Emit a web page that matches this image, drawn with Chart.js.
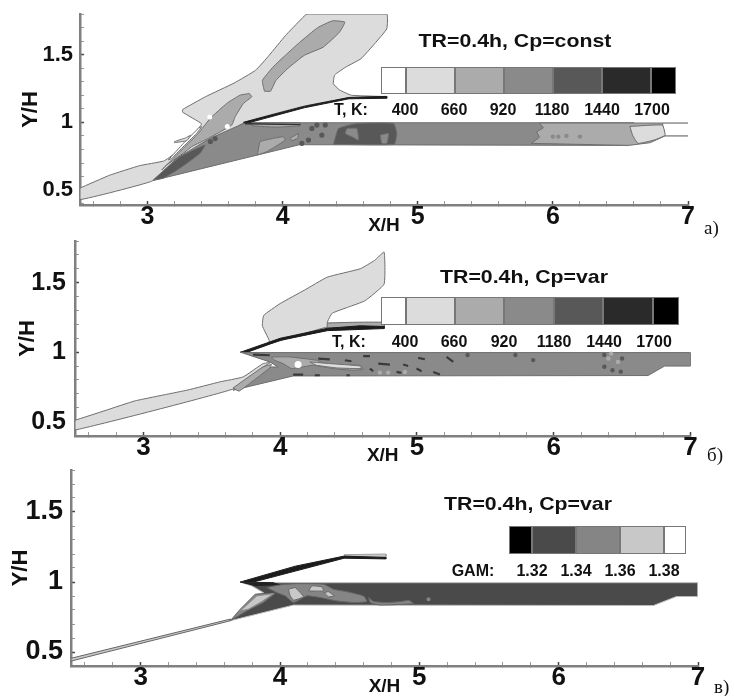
<!DOCTYPE html>
<html>
<head>
<meta charset="utf-8">
<script src="https://cdn.jsdelivr.net/npm/chart.js@4"></script>
<style>
  html, body { margin: 0; padding: 0; background: #fff; }
  #page { position: relative; width: 734px; height: 696px; overflow: hidden; filter: blur(0.6px); }
  canvas { position: absolute; left: 0; }
  .t { position: absolute; white-space: nowrap; font: bold 16px "Liberation Sans", sans-serif; color: #111; transform: translate(-50%, -50%); }
  .s { position: absolute; box-sizing: border-box; }
  .m { position: absolute; font: 19px "Liberation Serif", serif; color: #111; white-space: nowrap; }
</style>
</head>
<body>
<div id="page">
  <canvas id="c1" width="734" height="235" style="top:0"></canvas>
  <canvas id="c2" width="734" height="230" style="top:235px"></canvas>
  <canvas id="c3" width="734" height="231" style="top:465px"></canvas>
</div>
<script>
const xTickValues = [2.6,2.8,3,3.2,3.4,3.6,3.8,4,4.2,4.4,4.6,4.8,5,5.2,5.4,5.6,5.8,6,6.2,6.4,6.6,6.8,7];
const yTickValues = [0.4,0.5,0.6,0.7,0.8,0.9,1,1.1,1.2,1.3,1.4,1.5,1.6,1.7,1.8];
const xLabels = [3,4,5,6,7];
const yLabels = { 0.5: "0.5", 1: "1", 1.5: "1.5" };

const tempColors = ["#ffffff","#dcdcdc","#ababab","#8a8a8a","#585858","#2a2a2a","#000000"];
const tempLabels = ["400","660","920","1180","1440","1700"];
const gamColors = ["#000000","#4a4a4a","#858585","#c8c8c8","#ffffff"];
const gamLabels = ["1.32","1.34","1.36","1.38"];

// panel a
const a_plume = [[2.5,.515],[2.72,.61],[2.94,.68],[3.12,.715],[3.2,.77],[3.3,.87],[3.38,.96],[3.4,.99],[3.26,1.075],[3.26,1.095],[3.43,1.19],[3.64,1.29],[3.8,1.385],[3.9,1.495],[4.02,1.64],[4.14,1.765],[4.18,1.8],[4.77,1.8],[4.77,1.69],[4.68,1.58],[4.58,1.47],[4.47,1.41],[4.385,1.35],[4.375,1.285],[4.42,1.24],[4.51,1.2],[4.77,1.19],[4.49,1.18],[4.16,1.12],[3.73,1.005],[3.6,.93],[3.43,.845],[3.22,.7],[3.03,.565],[2.5,.43]];
const a_blobUp = [[3.865,1.23],[3.85,1.31],[3.93,1.41],[4.02,1.495],[4.125,1.59],[4.26,1.7],[4.37,1.75],[4.46,1.74],[4.42,1.665],[4.3,1.555],[4.16,1.495],[4.04,1.4],[3.95,1.31],[3.91,1.23]];
const a_blobLow = [[3.754,1.213],[3.771,1.189],[3.71,1.14],[3.648,1.041],[3.623,.98],[3.45,.882],[3.327,.821],[3.265,.772],[3.142,.686],[3.105,.649],[3.265,.809],[3.376,.919],[3.463,1.029],[3.586,1.14],[3.685,1.201]];
const a_gap = [[3.154,.723],[3.265,.845],[3.376,.956],[3.401,.968],[3.364,.919],[3.253,.809],[3.179,.735]];
const a_bit = [[3.2,.85],[3.29,.865],[3.32,.905],[3.28,.885],[3.2,.858]];
const a_duct = [[3.043,.571],[3.216,.735],[3.463,.882],[3.722,.997],[6.6,.997],[6.56,.83],[4.125,.835]];
const a_right = [[5.9,.995],[5.93,.96],[5.88,.93],[5.9,.89],[5.84,.845],[6.56,.83],[6.72,.85],[6.83,.9],[6.81,.995]];
const a_rightLight = [[6.57,.97],[6.81,.98],[6.83,.905],[6.75,.87],[6.63,.845],[6.59,.905]];
const a_hot = [[4.376,.838],[4.413,.955],[4.549,.992],[4.821,.992],[4.845,.918],[4.826,.838]];
const a_hole1 = [[4.475,.955],[4.549,.955],[4.562,.869],[4.512,.894],[4.463,.918]];
const a_hole2 = [[4.722,.906],[4.784,.918],[4.771,.845],[4.734,.845]];
const a_patch = [[3.813,.759],[3.833,.857],[3.932,.882],[4.006,.894],[4.018,.869],[3.944,.82],[3.883,.784]];
const a_patch2 = [[4.055,.882],[4.117,.918],[4.11,.882],[4.068,.865]];
const a_wedge = [[3.043,.576],[3.24,.747],[3.426,.833],[3.389,.772],[3.24,.661],[3.117,.588]];
const a_top = [[3.75,.997],[4.13,.997],[4.13,.975],[3.95,.965],[3.78,.975]];
const a_cowl = [[3.71,1],[4.16,1.118],[4.49,1.184],[4.77,1.192],[4.77,1.178],[4.49,1.174],[4.16,1.108],[3.76,1]];
const a_pipeTop = [[6.81,.995],[7,.995]];
const a_pipeLow = [[6.83,.9],[7,.9]];
const a_tipLine = [[3.72,.99],[4.13,.985]];
const a_dark = [[4.253,.98],[4.315,.98],[4.29,.906],[4.191,.869],[4.142,.845],[4.216,.955],[3.465,.858],[3.5,.88]];
const a_mid = [[6,.895],[6.1,.9],[6.04,.895],[6.2,.895]];
const a_white = [[3.59,.97],[3.46,1.04]];

// panel b
const b_band = [[2.5,.51],[2.72,.58],[2.94,.65],[3.32,.727],[3.558,.786],[3.729,.822],[3.875,.918],[3.93,.925],[3.875,.894],[3.656,.735],[2.5,.44]];
const b_plume = [[3.92,1.086],[3.87,1.19],[3.88,1.265],[4,1.35],[4.175,1.445],[4.345,1.54],[4.585,1.6],[4.69,1.66],[4.76,1.72],[4.76,1.49],[4.62,1.37],[4.5,1.325],[4.38,1.28],[4.345,1.21],[4.53,1.21],[4.76,1.21],[4.76,1.18],[4.345,1.18],[3.92,1.06]];
const b_cowlTop = [[4.345,1.21],[4.53,1.215],[4.76,1.215],[4.76,1.185],[4.345,1.175]];
const b_cowl = [[3.71,1],[4,1.1],[4.345,1.172],[4.585,1.19],[4.76,1.185],[4.76,1.17],[4.345,1.155],[4,1.085],[3.76,1]];
const b_duct = [[3.709,1],[3.76,.997],[7,.997],[7,.9],[6.81,.9],[6.69,.832],[4.095,.829],[3.656,.726],[3.936,.894],[3.985,.894],[3.924,.93]];
const b_wedge = [[3.656,.743],[3.875,.894],[3.936,.911],[3.924,.887],[3.7,.72]];
const b_blob = [[3.936,.966],[4.07,.966],[4.265,.942],[4.363,.906],[4.582,.906],[4.607,.877],[4.534,.87],[4.387,.882],[4.241,.906],[4.168,.894],[4.082,.882],[4.021,.918],[3.96,.942]];
const b_blobLight = [[4.217,.93],[4.363,.918],[4.582,.901],[4.595,.882],[4.412,.887],[4.265,.906]];
const b_dashes = [[[4.278,.954],[4.363,.949]],[[4.473,.942],[4.521,.935]],[[4.607,.971],[4.656,.971]],[[4.717,.918],[4.802,.911]],[[4.899,.911],[4.936,.901]],[[5.009,.959],[5.058,.949]],[[4.095,.839],[4.168,.839]],[[4.253,.834],[4.29,.834]],[[4.485,.834],[4.509,.834]],[[4.656,.882],[4.68,.863]],[[4.851,.858],[4.887,.851]],[[4.997,.882],[5.034,.863]],[[5.119,.858],[5.168,.839]],[[5.217,.966],[5.265,.93]],[[3.802,.983],[3.924,.978]]];
const b_dark = [[5.37,.98],[5.72,.98],[5.85,.943],[6.37,.895],[6.43,.87],[6.49,.86],[6.37,.98],[6.5,.955]];
const b_mid = [[4.729,.853],[4.79,.853],[4.912,.858],[6.4,.955],[6.42,.99],[6.47,.93]];
const b_white = [[4.131,.911]];

// panel c
const c_band = [[2.5,.455],[3.643,.735],[3.643,.723],[2.5,.435]];
const c_cowlTop = [[4.46,1.195],[4.76,1.2],[4.76,1.18],[4.47,1.18]];
const c_cowl = [[3.715,1],[4.11,1.113],[4.46,1.185],[4.76,1.175],[4.76,1.165],[4.46,1.17],[4.11,1.078],[3.81,1]];
const c_duct = [[3.715,1],[3.76,.995],[7,.995],[7,.896],[6.845,.896],[6.68,.832],[4.097,.835],[3.643,.723],[3.715,.794],[3.834,.913],[3.882,.924],[3.798,.972]];
const c_tipDark = [[3.715,1],[3.95,.995],[4,.98],[3.82,.975]];
const c_wedge = [[3.643,.723],[3.715,.806],[3.822,.913],[3.966,.92],[3.882,.854],[3.762,.794]];
const c_tri = [[3.715,.794],[3.834,.901],[3.954,.917],[3.87,.861],[3.774,.806]];
const c_blob = [[3.906,.96],[4,.979],[4.121,.988],[4.313,.984],[4.384,.948],[4.48,.931],[4.6,.9],[4.624,.861],[4.54,.853],[4.408,.865],[4.289,.889],[4.193,.901],[4.097,.853],[4.037,.901],[3.978,.924]];
const c_tail = [[4.636,.889],[4.671,.861],[4.767,.853],[4.875,.861],[4.923,.87],[4.958,.846],[4.719,.835],[4.648,.853]];
const c_l1 = [[4.061,.948],[4.109,.96],[4.169,.894],[4.097,.87],[4.073,.901]];
const c_l2 = [[4.205,.936],[4.229,.972],[4.301,.965],[4.313,.936]];
const c_l3 = [[4.317,.924],[4.348,.931],[4.389,.901],[4.348,.894]];
const c_mid = [[5.066,.877]];

function poly(pts, color, border, tension) {
  const closed = pts.concat([pts[0]]);
  return { data: closed.map(p => ({ x: p[0], y: p[1] })), showLine: true, fill: "shape", backgroundColor: color,
    borderColor: border || "#6e6e6e", borderWidth: 1, pointRadius: 0, tension: tension === undefined ? 0.12 : tension };
}
function open(pts, color, width) {
  return { data: pts.map(p => ({ x: p[0], y: p[1] })), showLine: true, fill: false, borderColor: color, borderWidth: width || 1.2, pointRadius: 0 };
}
function dashes(pairs, color, width) {
  const pts = [];
  pairs.forEach(p => { pts.push(p[0], p[1], [p[1][0], null]); });
  return open(pts, color, width);
}
function dots(pts, color, r) {
  return { data: pts.map(p => ({ x: p[0], y: p[1] })), showLine: false, pointRadius: r, pointBackgroundColor: color, pointBorderWidth: 0 };
}

function makePanel(id, sets, o) {
  sets.forEach((d, i) => { d.order = sets.length - i; });
  const tickFont = size => ({ family: "Liberation Sans", weight: "bold", size: size });
  const isMajorX = v => xLabels.includes(Math.round(v * 10) / 10);
  const isMajorY = v => yLabels[Math.round(v * 10) / 10] !== undefined;
  new Chart(document.getElementById(id), {
    type: "scatter",
    data: { datasets: sets },
    options: {
      responsive: false,
      animation: false,
      layout: { padding: { top: o.top, right: 734 - o.right, left: 0, bottom: 0 } },
      plugins: { legend: { display: false }, tooltip: { enabled: false } },
      scales: {
        x: {
          type: "linear", min: 2.5, max: 7,
          afterBuildTicks: s => { s.ticks = xTickValues.map(v => ({ value: v })); },
          afterFit: s => { s.height = o.xHeight; s.paddingLeft = 0; s.paddingRight = 0; },
          border: { color: "#808080", width: 2.5 },
          grid: { drawOnChartArea: false, tickLength: -4,
            tickColor: c => isMajorX(c.tick.value) ? "#444" : "#999",
            tickWidth: c => isMajorX(c.tick.value) ? 1.5 : 1 },
          ticks: { autoSkip: false, maxRotation: 0, padding: o.xPad, color: "#111", font: tickFont(o.xFont),
            callback: v => isMajorX(v) ? String(Math.round(v)) : "" },
          title: { display: true, text: "X/H", color: "#111", padding: 0, font: { family: "Liberation Sans", weight: "bold", size: 19, lineHeight: 1 } }
        },
        y: {
          type: "linear", min: o.yMin, max: 1.8,
          afterBuildTicks: s => { s.ticks = yTickValues.filter(v => v >= o.yMin).map(v => ({ value: v })); },
          afterFit: s => { s.width = o.left; s.paddingTop = 0; s.paddingBottom = 0; },
          border: { color: "#808080", width: 2.5 },
          grid: { drawOnChartArea: false, tickLength: -4,
            tickColor: c => isMajorY(c.tick.value) ? "#444" : "#999",
            tickWidth: c => isMajorY(c.tick.value) ? 1.5 : 1 },
          ticks: { autoSkip: false, padding: o.yPad, color: "#111", font: tickFont(o.yFont),
            callback: v => yLabels[Math.round(v * 10) / 10] || "" },
          title: { display: true, text: "Y/H", color: "#111", padding: { top: o.yTitle, bottom: 0 }, font: { family: "Liberation Sans", weight: "bold", size: 22, lineHeight: 1 } }
        }
      }
    }
  });
}

const C1 = tempColors[1], C2 = tempColors[2], C3 = tempColors[3], C4 = tempColors[4];
makePanel("c1", [
  poly(a_plume, C1), poly(a_blobUp, C2), poly(a_duct, C3, null, 0), poly(a_blobLow, C2), poly(a_gap, "#ffffff"), poly(a_bit, C1),
  poly(a_right, C2, null, 0), poly(a_rightLight, C1), poly(a_hot, C4), poly(a_hole1, C3), poly(a_hole2, C3),
  poly(a_patch, C2), poly(a_patch2, C2), poly(a_wedge, C4), poly(a_top, C2),
  poly(a_cowl, "#1c1c1c", "#1c1c1c", 0), open(a_pipeTop, "#707070"), open(a_pipeLow, "#707070"), open(a_tipLine, "#333333", 1.5),
  dots(a_dark, C4, 2.6), dots(a_mid, C3, 2.2), dots(a_white, "#ffffff", 2.5)
], { top: 14, right: 688, left: 80, xHeight: 30, yMin: 0.39, xFont: 25, yFont: 22, xPad: 1, yPad: 11, yTitle: 20 });

makePanel("c2", [
  poly(b_band, C1), poly(b_plume, C1), poly(b_cowlTop, C2), poly(b_cowl, "#1c1c1c", "#1c1c1c", 0),
  poly(b_duct, C3, null, 0), poly(b_wedge, C2), poly(b_blob, C2), poly(b_blobLight, C1),
  dashes(b_dashes, "#3a3a3a", 2.2), dots(b_dark, C4, 2.2), dots(b_mid, C2, 2.2), dots(b_white, "#ffffff", 3.5)
], { top: 6, right: 690.5, left: 75, xHeight: 29, yMin: 0.397, xFont: 26, yFont: 25, xPad: 0, yPad: 13, yTitle: 17 });

makePanel("c3", [
  poly(c_band, "#c8c8c8", "#666666", 0), poly(c_cowlTop, "#c8c8c8", "#a0a0a0", 0), poly(c_cowl, "#1c1c1c", "#1c1c1c", 0),
  poly(c_duct, gamColors[1], "#bbbbbb", 0), poly(c_tipDark, "#222222", "#222222", 0), poly(c_wedge, gamColors[2], "#666666", 0), poly(c_tri, gamColors[3], "#8a8a8a", 0),
  poly(c_blob, gamColors[2], "#666666"), poly(c_tail, gamColors[2], "#666666"), poly(c_l1, gamColors[3], "#666666"), poly(c_l2, gamColors[3], "#666666"), poly(c_l3, gamColors[3], "#666666"),
  dots(c_mid, gamColors[2], 2)
], { top: 5, right: 698, left: 71, xHeight: 30, yMin: 0.4, xFont: 26, yFont: 27, xPad: 0, yPad: 12, yTitle: 10 });

// colour bars and their captions, outside the axes like in the original figure
const page = document.getElementById("page");
function text(str, x, y, extra) {
  const el = document.createElement("div");
  el.className = "t";
  el.textContent = str;
  el.style.left = x + "px";
  el.style.top = y + "px";
  if (extra) el.style.cssText += extra;
  page.appendChild(el);
}
function bar(edges, colors, top, bottom) {
  colors.forEach((c, i) => {
    const el = document.createElement("div");
    el.className = "s";
    el.style.cssText = `left:${edges[i]}px;top:${top}px;width:${edges[i + 1] - edges[i]}px;height:${bottom - top}px;background:${c};border:1px solid #777;`;
    page.appendChild(el);
  });
}
function caption(str, x, y) {
  text(str, x, y, "font-size:19px;transform:translate(-50%,-50%) scaleX(1.12);");
}
function note(str, x, y) {
  const el = document.createElement("div");
  el.className = "m";
  el.textContent = str;
  el.style.left = x + "px";
  el.style.top = y + "px";
  page.appendChild(el);
}

caption("TR=0.4h, Cp=const", 515, 41);
bar([381,406,455,504,553,602,651,676], tempColors, 67, 94);
text("T, K:", 351, 110);
tempLabels.forEach((s, i) => text(s, [405,454,503,552,602,652][i], 110));
note("а)", 704, 217);

caption("TR=0.4h, Cp=var", 524, 277);
bar([381,406,455,504,554,603,653,679], tempColors, 297, 325);
text("T, K:", 349, 342);
tempLabels.forEach((s, i) => text(s, [405,454,504,554,604,654][i], 342));
note("б)", 707, 444);

caption("TR=0.4h, Cp=var", 528, 504);
bar([509,532,576,620,664,686], gamColors, 526, 554);
text("GAM:", 473, 571);
gamLabels.forEach((s, i) => text(s, [532,576,620,664][i], 571));
note("в)", 714, 676);
</script>
</body>
</html>
